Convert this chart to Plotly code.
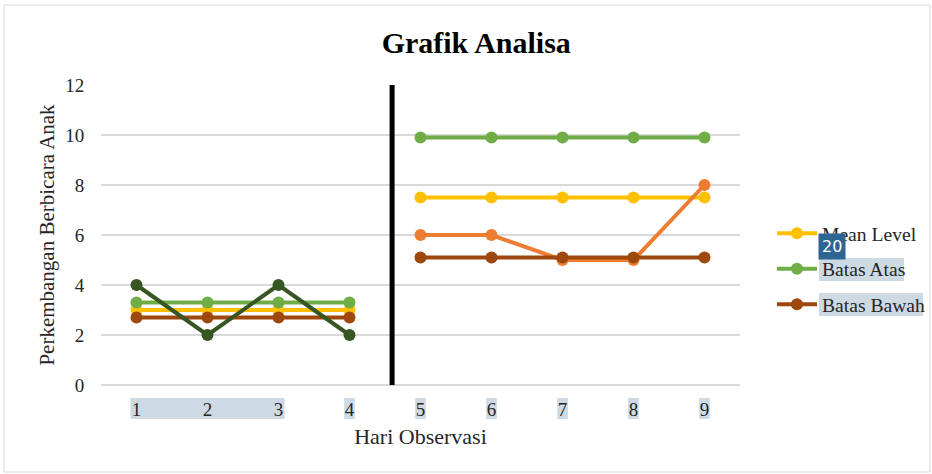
import plotly.graph_objects as go

# ---- data ----
days = [1, 2, 3, 4, 5, 6, 7, 8, 9]
tick_labels = ["1", "2", "3", "4", "5", "6", "7", "8", "9"]

phase1_days = [1, 2, 3, 4]
phase2_days = [5, 6, 7, 8, 9]

phase1_data = [4, 2, 4, 2]
phase2_data = [6, 6, 5, 5, 8]

mean_level_1 = [3.0, 3.0, 3.0, 3.0]
mean_level_2 = [7.5, 7.5, 7.5, 7.5, 7.5]
batas_atas_1 = [3.3, 3.3, 3.3, 3.3]
batas_atas_2 = [9.9, 9.9, 9.9, 9.9, 9.9]
batas_bawah_1 = [2.7, 2.7, 2.7, 2.7]
batas_bawah_2 = [5.1, 5.1, 5.1, 5.1, 5.1]

phase_change_x = [4.6, 4.6]
phase_change_y = [0, 12]

C_MEAN = "#FFC000"
C_ATAS = "#70AD47"
C_BAWAH = "#9E480E"
C_DATA1 = "#375623"
C_DATA2 = "#ED7D31"
FONT = "Liberation Serif"

L, R, T, B = 101, 192, 85, 89
PW = 932 - L - R


def px(x):
    return (x - L) / PW


def py(y):
    return (474 - B - y) / (474 - T - B)


fig = go.Figure()


def line(x, y, color, name, show, group):
    fig.add_trace(go.Scatter(
        x=x, y=y, mode="lines+markers", name=name, showlegend=show,
        legendgroup=group,
        line=dict(color=color, width=4),
        marker=dict(color=color, size=12),
    ))


# phase 1
line(phase1_days, mean_level_1, C_MEAN, "Mean Level", False, "a")
line(phase1_days, batas_atas_1, C_ATAS, "Batas Atas", False, "b")
line(phase1_days, batas_bawah_1, C_BAWAH, "Batas Bawah", False, "c")
line(phase1_days, phase1_data, C_DATA1, "Data 1", False, "d")
# phase 2
line(phase2_days, mean_level_2, C_MEAN, "Mean Level", True, "a")
line(phase2_days, batas_atas_2, C_ATAS, "Batas Atas", True, "b")
line(phase2_days, phase2_data, C_DATA2, "Data 2", False, "e")
line(phase2_days, batas_bawah_2, C_BAWAH, "Batas Bawah", True, "c")

# phase change line
fig.add_trace(go.Scatter(x=phase_change_x, y=phase_change_y, mode="lines",
                         line=dict(color="black", width=5), showlegend=False,
                         hoverinfo="skip"))

shapes = []
# outer chart border
shapes.append(dict(type="rect", xref="paper", yref="paper",
                   x0=px(4), x1=px(930), y0=py(472), y1=py(5),
                   line=dict(color="#D9D9D9", width=1), layer="below"))
# selection highlights behind tick labels
hl = "#CDD9E3"
shapes.append(dict(type="rect", xref="x", yref="paper", x0=0.915, x1=3.085,
                   y0=py(419), y1=py(398), fillcolor=hl, line=dict(width=0), layer="below"))
for d in days[3:]:
    shapes.append(dict(type="rect", xref="x", yref="paper", x0=d - 0.075, x1=d + 0.075,
                       y0=py(419), y1=py(398), fillcolor=hl, line=dict(width=0), layer="below"))
# highlights behind legend labels
shapes.append(dict(type="rect", xref="paper", yref="paper", x0=px(819), x1=px(904),
                   y0=py(281), y1=py(258), fillcolor=hl, line=dict(width=0), layer="below"))
shapes.append(dict(type="rect", xref="paper", yref="paper", x0=px(819), x1=px(923),
                   y0=py(316), y1=py(293), fillcolor=hl, line=dict(width=0), layer="below"))

fig.update_layout(
    width=932, height=474,
    margin=dict(l=L, r=R, t=T, b=B, autoexpand=False),
    paper_bgcolor="white", plot_bgcolor="white",
    font=dict(family=FONT, color="#262626"),
    title=dict(text="<b>Grafik Analisa</b>", x=0.511, xref="container",
               y=1 - 42 / 474, yref="container", xanchor="center", yanchor="middle",
               font=dict(family=FONT, size=30, color="black")),
    xaxis=dict(range=[0.5, 9.5], tickvals=days, ticktext=tick_labels,
               showgrid=False, zeroline=False, showline=False,
               ticks="outside", ticklen=7, tickcolor="rgba(0,0,0,0)",
               tickfont=dict(family=FONT, size=19, color="#262626"),
               title=dict(text="Hari Observasi", standoff=9,
                          font=dict(family=FONT, size=22, color="#262626"))),
    yaxis=dict(range=[0, 12], dtick=2, showgrid=True, gridcolor="#D9D9D9",
               gridwidth=1.5, zeroline=True, zerolinecolor="#D9D9D9", zerolinewidth=2,
               showline=False, ticks="outside", ticklen=12,
               tickcolor="rgba(0,0,0,0)",
               tickfont=dict(family=FONT, size=19, color="#262626"),
               title=dict(text="Perkembangan Berbicara Anak", standoff=4,
                          font=dict(family=FONT, size=21, color="#262626"))),
    legend=dict(x=px(772), xanchor="left", y=py(214), yanchor="top",
                traceorder="grouped", tracegroupgap=7, itemwidth=40,
                font=dict(family=FONT, size=19.6, color="#262626"),
                bgcolor="rgba(0,0,0,0)"),
    shapes=shapes,
    annotations=[dict(text="20", xref="paper", yref="paper", x=px(832), y=py(246),
                      xanchor="center", yanchor="middle", showarrow=False,
                      bgcolor="#2E6592", borderpad=3,
                      font=dict(family="DejaVu Sans", size=16, color="white"))],
)

fig.write_html("out.html", config={"displayModeBar": False},
               post_script="document.body.style.margin='0px';")
